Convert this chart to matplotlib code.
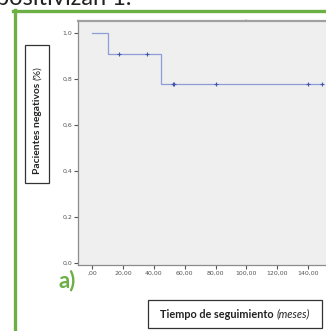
import matplotlib
matplotlib.use('Agg')
import matplotlib.pyplot as plt
from matplotlib.patches import Rectangle
from matplotlib.lines import Line2D

# Kaplan-Meier steps (meses, proporcion negativos)
step_times = [0, 10.4, 44.4, 149]
step_surv = [1.0, 0.909, 0.779, 0.779]
# censored cases
censor_times = [17.3, 35.3, 52.3, 53.3, 80.3, 140.0, 149.0]
censor_surv = [0.909, 0.909, 0.779, 0.779, 0.779, 0.779, 0.779]

x_ticks = [0, 20, 40, 60, 80, 100, 120, 140]
x_labels = [',00', '20,00', '40,00', '60,00', '80,00', '100,00', '120,00', '140,00']
y_ticks = [0.0, 0.2, 0.4, 0.6, 0.8, 1.0]
y_labels = ['0,0', '0,2', '0,4', '0,6', '0,8', '1,0']

W, H = 326, 331
fig = plt.figure(figsize=(W / 100, H / 100), dpi=100)
fig.patch.set_facecolor('white')

def fx(px):
    return px / W

def fy(py):
    return 1 - py / H

green = '#6BAF45'

# green frame
fig.add_artist(Line2D([fx(14.5), fx(14.5)], [fy(10), fy(331)], color=green, lw=2.4))
fig.add_artist(Line2D([fx(13.5), fx(330)], [fy(11), fy(11)], color=green, lw=2.4))

# text above, cut at top edge
fig.text(fx(132), fy(5), 'positivizan 1.', ha='right', va='baseline',
         fontsize=17, family='Lato', color='#222222')

# small dot artifact
fig.text(fx(245), fy(17.5), '.', ha='center', va='center', fontsize=5, color='#999999')

left, right, top, bottom = 78, 330, 20.5, 265
ax = fig.add_axes([fx(left), fy(bottom), fx(right - left), (bottom - top) / H])
ax.set_facecolor('#EFEFEF')

ax.step(step_times, step_surv, where='post', color='#8E9DD8', lw=0.9)
ax.plot(censor_times, censor_surv, ls='none', marker='+', ms=3.5, mew=0.8, color='#4455AA')

ax.set_xlim(-9.3, 154.3)
ax.set_ylim(-0.009, 1.054)
ax.set_xticks(x_ticks)
ax.set_xticklabels(x_labels)
ax.set_yticks(y_ticks)
ax.set_yticklabels(y_labels)
ax.tick_params(axis='both', length=3, width=0.8, color='#555555', labelsize=4.5,
               labelcolor='#555555', pad=1)

for s in ['left', 'bottom']:
    ax.spines[s].set_color('#8C8C8C')
    ax.spines[s].set_linewidth(0.9)
ax.spines['top'].set_color('#A0A0A0')
ax.spines['top'].set_linewidth(1.6)
ax.spines['right'].set_visible(False)

renderer = fig.canvas.get_renderer()

# y label box: bold part + normal part, vertical
fig.add_artist(Rectangle((fx(25), fy(183)), fx(24), (183 - 45) / H, fill=False,
                         edgecolor='#333333', lw=0.9, transform=fig.transFigure))
yb = fig.text(0, 0, 'Pacientes negativos ', rotation=90, ha='center', va='bottom',
              fontsize=7.4, family='Lato', fontweight='bold', color='#222222')
yn = fig.text(0, 0, '(%)', rotation=90, ha='center', va='bottom',
              fontsize=7.4, family='Lato', color='#222222')
hb = yb.get_window_extent(renderer).height
hn = yn.get_window_extent(renderer).height
start = (H - 120) - (hb + hn) / 2
yb.set_position((fx(37.5), start / H))
yn.set_position((fx(37.5), (start + hb) / H))

# x label box: bold part + italic part
fig.add_artist(Rectangle((fx(148), fy(328)), fx(174), 28 / H, fill=False,
                         edgecolor='#333333', lw=0.9, transform=fig.transFigure))
xb = fig.text(0, 0, 'Tiempo de seguimiento ', ha='left', va='center',
              fontsize=7.8, family='Lato', fontweight='bold', color='#222222')
xi = fig.text(0, 0, '(meses)', ha='left', va='center',
              fontsize=7.8, family='Lato', style='italic', color='#222222')
wb = xb.get_window_extent(renderer).width
wi = xi.get_window_extent(renderer).width
x0 = 235 - (wb + wi) / 2
xb.set_position((fx(x0), fy(314)))
xi.set_position((fx(x0 + wb), fy(314)))

fig.text(fx(67), fy(281), 'a)', ha='center', va='center', fontsize=16,
         family='Lato', fontweight='bold', color=green)

fig.savefig('out.png', dpi=100)
